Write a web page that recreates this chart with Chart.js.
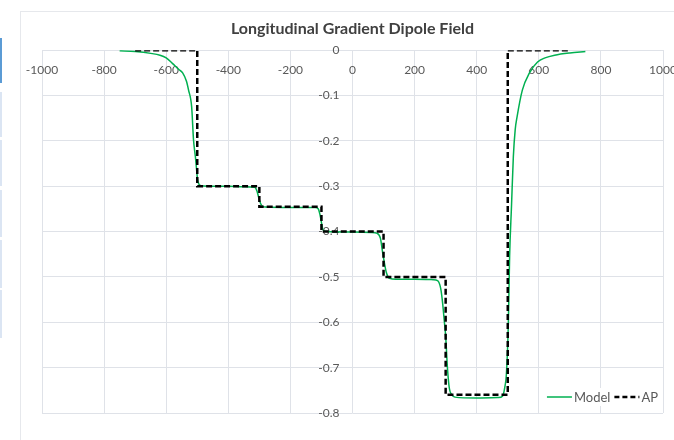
<!DOCTYPE html>
<html>
<head>
<meta charset="utf-8">
<script src="https://cdn.jsdelivr.net/npm/chart.js@4/dist/chart.umd.min.js"></script>
<style>
  html, body { margin: 0; padding: 0; background: #ffffff; }
  #wrap { position: relative; width: 674px; height: 440px; overflow: hidden; }
  #frame { position: absolute; left: 20px; top: 11px; width: 700px; height: 460px;
           border-left: 1px solid #e6e8ec; border-top: 1px solid #e6e8ec; }
  .tab { position: absolute; left: 0; width: 2px; background: #dbe5f3; }
  .tab.on { background: #5b9bd5; }
  canvas { position: absolute; left: 0; top: 0; }
</style>
</head>
<body>
<div id="wrap">
  <div class="tab on" style="top:38px;height:45px"></div>
  <div class="tab" style="top:92px;height:45px"></div>
  <div class="tab" style="top:140px;height:46px"></div>
  <div class="tab" style="top:190px;height:47px"></div>
  <div class="tab" style="top:240px;height:48px"></div>
  <div class="tab" style="top:290px;height:48px"></div>
  <div id="frame"></div>
  <canvas id="c" width="674" height="440"></canvas>
</div>
<script>
// Longitudinal position (mm) and field for the modelled profile
const modelX = [-750, -700, -650, -620, -600, -580, -560, -547, -535, -528, -518, -512, -506, -503, -499, -494, -486,
  -450, -400, -350, -315, -308, -302, -296, -290, -280, -200, -120, -110, -104, -100, -96, -90, -80,
  0, 60, 80, 90, 97, 103, 109, 119, 140, 200, 260, 274, 284, 290, 296, 300, 306, 312, 320, 330,
  400, 470, 483, 490, 496, 502, 506, 512, 518, 524, 530, 547, 570, 596, 620, 651, 700, 750];
const modelY = [-0.001, -0.003, -0.007, -0.011, -0.017, -0.029, -0.042, -0.050, -0.068, -0.088, -0.125, -0.198, -0.235, -0.257, -0.285, -0.296, -0.299,
  -0.300, -0.300, -0.301, -0.302, -0.310, -0.325, -0.338, -0.344, -0.346, -0.347, -0.347, -0.350, -0.365, -0.380, -0.394, -0.399, -0.400,
  -0.401, -0.402, -0.404, -0.415, -0.446, -0.470, -0.490, -0.503, -0.505, -0.505, -0.506, -0.508, -0.525, -0.556, -0.600, -0.630, -0.703, -0.746, -0.760, -0.765,
  -0.767, -0.766, -0.763, -0.745, -0.710, -0.600, -0.455, -0.345, -0.235, -0.175, -0.147, -0.088, -0.050, -0.026, -0.017, -0.011, -0.006, -0.003];

// Hard-edge (AP) step profile
const apX = [-700, -500, -500, -300, -300, -100, -100, 100, 100, 300, 300, 500, 500, 700];
const apY = [0, 0, -0.3, -0.3, -0.345, -0.345, -0.4, -0.4, -0.5, -0.5, -0.76, -0.76, 0, 0];

const xTicks = [-1000, -800, -600, -400, -200, 0, 200, 400, 600, 800, 1000];
const yTicks = [0, -0.1, -0.2, -0.3, -0.4, -0.5, -0.6, -0.7, -0.8];

const seriesNames = ['Model', 'AP'];
const seriesColors = ['#00b050', '#000000'];

const FONT = 'Lato, "Liberation Sans", sans-serif';
const TICK_COLOR = '#595959';
const GRID_COLOR = '#dfe2e8';

const toPoints = (xs, ys) => xs.map((x, i) => ({ x: x, y: ys[i] }));

// Legend drawn inside the plot, bottom-right corner
const innerLegend = {
  id: 'innerLegend',
  afterDatasetsDraw(chart) {
    const ctx = chart.ctx;
    const area = chart.chartArea;
    const cy = area.bottom - 16;
    ctx.save();
    ctx.font = '13px ' + FONT;
    ctx.textBaseline = 'middle';
    const w0 = ctx.measureText(seriesNames[0]).width;
    const w1 = ctx.measureText(seriesNames[1]).width;
    const seg = 25, gap = 2, sep = 4;
    const total = seg + gap + w0 + sep + seg + gap + w1;
    let x = area.right - 5 - total;
    ctx.fillStyle = '#ffffff';
    ctx.fillRect(x - 3, cy - 9, total + 6, 18);
    // Model swatch
    ctx.strokeStyle = seriesColors[0];
    ctx.lineWidth = 1.5;
    ctx.beginPath(); ctx.moveTo(x, cy); ctx.lineTo(x + seg, cy); ctx.stroke();
    x += seg + gap;
    ctx.fillStyle = TICK_COLOR;
    ctx.fillText(seriesNames[0], x, cy + 0.5);
    x += w0 + sep;
    // AP swatch
    ctx.strokeStyle = seriesColors[1];
    ctx.lineWidth = 2.5;
    ctx.setLineDash([5, 3]);
    ctx.beginPath(); ctx.moveTo(x, cy); ctx.lineTo(x + seg, cy); ctx.stroke();
    ctx.setLineDash([]);
    x += seg + gap;
    ctx.fillText(seriesNames[1], x, cy + 0.5);
    ctx.restore();
  }
};

new Chart(document.getElementById('c'), {
  type: 'scatter',
  data: {
    datasets: [
      {
        label: seriesNames[0],
        data: toPoints(modelX, modelY),
        showLine: true,
        borderColor: seriesColors[0],
        backgroundColor: seriesColors[0],
        borderWidth: 1.5,
        pointRadius: 0,
        cubicInterpolationMode: 'monotone',
        order: 1
      },
      {
        label: seriesNames[1],
        data: toPoints(apX, apY),
        showLine: true,
        borderColor: seriesColors[1],
        backgroundColor: seriesColors[1],
        borderWidth: 2.5,
        borderDash: [6, 3],
        pointRadius: 0,
        tension: 0,
        order: 0
      }
    ]
  },
  options: {
    responsive: false,
    animation: false,
    layout: { padding: { left: 42, right: 11, top: 0, bottom: 27 } },
    plugins: {
      legend: { display: false },
      tooltip: { enabled: false },
      title: {
        display: true,
        text: 'Longitudinal Gradient Dipole Field',
        color: '#404040',
        font: { family: FONT, size: 16, weight: 'bold' },
        padding: { top: 19, bottom: 12 }
      }
    },
    scales: {
      x: {
        type: 'linear',
        position: { y: 0 },
        min: -1000, max: 1000,
        afterBuildTicks: s => { s.ticks = xTicks.map(v => ({ value: v })); },
        afterFit: s => { s.paddingLeft = 0; s.paddingRight = 0; },
        grid: { color: GRID_COLOR, drawTicks: false },
        border: { color: GRID_COLOR },
        ticks: {
          color: TICK_COLOR, font: { family: FONT, size: 12 }, padding: 13,
          maxRotation: 0, autoSkip: false,
          callback: v => String(v)
        }
      },
      y: {
        type: 'linear',
        // labels sit a little to the left of the x = 0 line (which is drawn by the x grid)
        position: { x: -42 },
        min: -0.8, max: 0,
        afterBuildTicks: s => { s.ticks = yTicks.map(v => ({ value: v })); },
        afterFit: s => { s.paddingTop = 0; s.paddingBottom = 0; },
        grid: { color: GRID_COLOR, drawTicks: false },
        border: { display: false },
        ticks: {
          color: TICK_COLOR, font: { family: FONT, size: 12 },
          autoSkip: false,
          callback: v => (v === 0 ? '0' : v.toFixed(1))
        }
      }
    }
  },
  plugins: [innerLegend]
});
</script>
</body>
</html>
